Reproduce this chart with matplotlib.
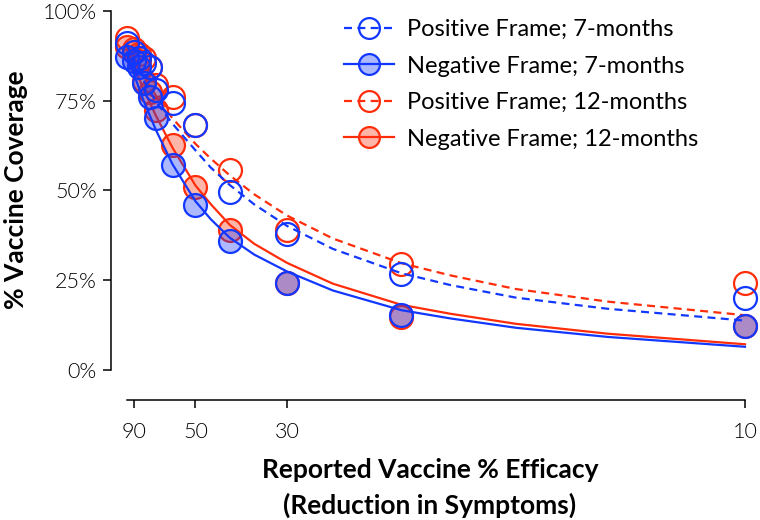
import matplotlib
matplotlib.use("Agg")
import matplotlib.pyplot as plt
from matplotlib.lines import Line2D

plt.rcParams["font.family"] = ["Lato", "DejaVu Sans"]

# reported efficacy levels (x) and % coverage per group
efficacy = [100, 90, 85, 80, 75, 70, 60, 50, 40, 30, 20, 10]
pos_7m = [91, 88.5, 87, 85.5, 84.5, 78, 74.3, 68.2, 49.6, 37.8, 26.6, 19.9]
neg_7m = [87.3, 86, 84.5, 80, 76, 70.3, 57.1, 45.9, 35.9, 24.1, 15.4, 12.2]
pos_12m = [92.5, 89.5, 88, 87, 84.5, 79.5, 76, 68.2, 55.7, 38.9, 29.4, 24.1]
neg_12m = [90, 88.5, 86, 80.5, 77.5, 72.4, 62.6, 51, 38.9, 24.1, 14.8, 12.2]

# fitted curves
fit_eff = [100, 90, 80, 70, 60, 50, 45, 40, 35, 30, 25, 20, 17.5, 15, 12.5, 10]
fit_pos_7m = [90.7, 86.0, 80.6, 74.7, 68.6, 61.2, 56.4, 51.5, 46.1, 40.1, 33.7, 26.9, 23.6, 20.1, 17.0, 13.7]
fit_neg_7m = [88.4, 82.1, 74.8, 66.7, 57.3, 47.0, 42.0, 36.8, 32.1, 27.4, 22.1, 16.6, 14.3, 11.7, 9.15, 6.4]
fit_pos_12m = [91.2, 86.8, 81.8, 76.3, 70.1, 63.0, 58.9, 54.2, 48.9, 43.0, 36.6, 29.7, 26.3, 22.5, 19.0, 15.2]
fit_neg_12m = [90.0, 84.5, 78.0, 70.7, 61.9, 51.4, 46.2, 40.4, 35.1, 29.8, 24.0, 18.1, 15.6, 12.8, 10.05, 7.1]

x_ticks = [90, 50, 30, 10]
y_ticks = [0, 25, 50, 75, 100]
labels = ["Positive Frame; 7-months", "Negative Frame; 7-months",
          "Positive Frame; 12-months", "Negative Frame; 12-months"]

BLUE = "#1237ff"
RED = "#ff2d0a"
BLUE_FILL = (0.07, 0.22, 1.0, 0.35)
RED_FILL = (1.0, 0.18, 0.04, 0.35)
DASH = (0, (3.6, 2.4))
MS = 16.5
MEW = 1.6
LW = 1.6

fig = plt.figure(figsize=(7.6, 5.2), dpi=100)
ax = fig.add_axes([110.7 / 760, 1 - 399.5 / 520, (750 - 110.7) / 760, (399.5 - 5) / 520])

# x axis is linear in 1/efficacy
ax.set_xscale("function", functions=(lambda e: 100.0 / e, lambda t: 100.0 / t))
ax.set_xlim(100 / 0.767, 100 / 10.073)
ax.invert_xaxis()
ax.set_ylim(-8.3, 101.7)

# red first so blue sits on top, as in the original
series = [
    (fit_pos_12m, pos_12m, RED, "none", DASH),
    (fit_neg_12m, neg_12m, RED, RED_FILL, "-"),
    (fit_pos_7m, pos_7m, BLUE, "none", DASH),
    (fit_neg_7m, neg_7m, BLUE, BLUE_FILL, "-"),
]
for fit, pts, col, fill, ls in series:
    ax.plot(fit_eff, fit, color=col, lw=LW, linestyle=ls, clip_on=False)
    ax.plot(efficacy, pts, linestyle="none", marker="o", ms=MS, mec=col, mfc=fill,
            mew=MEW, clip_on=False)

handles = [
    Line2D([], [], color=BLUE, lw=LW, linestyle=DASH, marker="o", ms=15, mec=BLUE, mfc="none", mew=MEW),
    Line2D([], [], color=BLUE, lw=LW, linestyle="-", marker="o", ms=15, mec=BLUE, mfc=BLUE_FILL, mew=MEW),
    Line2D([], [], color=RED, lw=LW, linestyle=DASH, marker="o", ms=15, mec=RED, mfc="none", mew=MEW),
    Line2D([], [], color=RED, lw=LW, linestyle="-", marker="o", ms=15, mec=RED, mfc=RED_FILL, mew=MEW),
]
fig.legend(handles, labels, loc="upper left", bbox_to_anchor=(344 / 760, 1 - 19 / 520),
           frameon=False, fontsize=17, handlelength=2.1, handletextpad=0.55,
           labelspacing=0.66, borderpad=0, borderaxespad=0)

for s in ["top", "right"]:
    ax.spines[s].set_visible(False)
ax.spines["left"].set_bounds(0, 100)
ax.spines["bottom"].set_bounds(100, 10)
for s in ["left", "bottom"]:
    ax.spines[s].set_linewidth(1.1)

ax.set_xticks(x_ticks)
ax.set_xticklabels([str(v) for v in x_ticks])
ax.set_yticks(y_ticks)
ax.set_yticklabels([f"{v}%" for v in y_ticks])
ax.xaxis.set_minor_locator(matplotlib.ticker.NullLocator())
ax.tick_params(axis="both", length=6, width=1.1, labelsize=15.5)
ax.tick_params(axis="x", pad=10)
ax.tick_params(axis="y", pad=4)
for t in ax.get_xticklabels() + ax.get_yticklabels():
    t.set_fontweight(300)

ax.set_xlabel("Reported Vaccine % Efficacy\n(Reduction in Symptoms)", fontsize=19,
              fontweight="bold", linespacing=1.55)
ax.xaxis.set_label_coords((430 - 110.7) / (750 - 110.7), -(488 - 399.5) / (399.5 - 5))
ax.xaxis.label.set_va("center")
ax.set_ylabel("% Vaccine Coverage", fontsize=19, fontweight="bold")
ax.yaxis.set_label_coords(-(110.7 - 16) / (750 - 110.7), (399.5 - 190) / (399.5 - 5))
ax.yaxis.label.set_va("center")

fig.savefig("out.png", dpi=100)
